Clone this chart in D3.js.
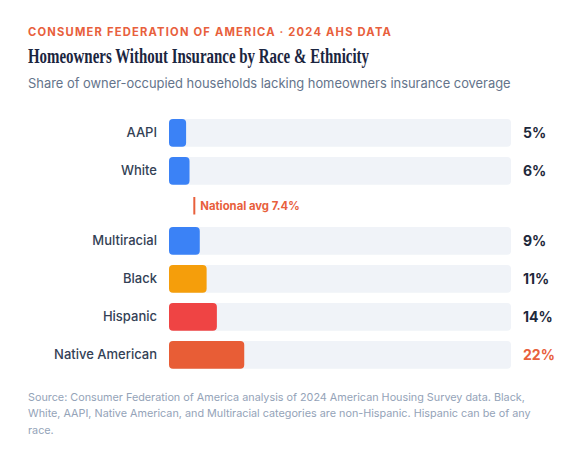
<!DOCTYPE html>
<html><head><meta charset="utf-8">
<script src="https://cdn.jsdelivr.net/npm/d3@7"></script>
<style>
html,body{margin:0;padding:0;background:#fff;}
svg{display:block;}
</style></head>
<body>
<script>
const categories = ["AAPI","White","Multiracial","Black","Hispanic","Native American"];
const values = [5,6,9,11,14,22];
const colors = ["#3b82f6","#3b82f6","#3b82f6","#f59e0b","#ef4444","#e85d36"];
const nationalAvg = 7.4;

const W = 587, H = 459;
const svg = d3.select("body").append("svg").attr("width", W).attr("height", H);
const sans = "Inter, 'Noto Sans', sans-serif";
const left = 28;

svg.append("text").attr("x",left).attr("y",36)
  .attr("font-family",sans).attr("font-size",11.2).attr("font-weight",700)
  .attr("letter-spacing","1.2px").attr("fill","#e8603c")
  .text("CONSUMER FEDERATION OF AMERICA · 2024 AHS DATA");

svg.append("text").attr("x",left).attr("y",63)
  .attr("font-family","'Liberation Serif', serif").attr("font-size",20.5).attr("font-weight",700)
  .attr("fill","#1b2540").attr("textLength",341).attr("lengthAdjust","spacingAndGlyphs")
  .text("Homeowners Without Insurance by Race & Ethnicity");

svg.append("text").attr("x",left).attr("y",88.3)
  .attr("font-family",sans).attr("font-size",12.9).attr("fill","#64748b")
  .text("Share of owner-occupied households lacking homeowners insurance coverage");

const x = d3.scaleLinear().domain([0,100]).range([169,511]);
const rowY = [119,157,227,265,303,341];
const barH = 27.7;

const g = svg.append("g");
categories.forEach((c,i)=>{
  const y0 = rowY[i];
  g.append("rect").attr("x",x(0)).attr("y",y0).attr("width",x(100)-x(0)).attr("height",barH)
    .attr("rx",4).attr("fill","#f0f3f8");
  g.append("rect").attr("x",x(0)).attr("y",y0).attr("width",x(values[i])-x(0)).attr("height",barH)
    .attr("rx",4).attr("fill",colors[i]);
  g.append("text").attr("x",157).attr("y",y0+barH/2).attr("dy","0.35em")
    .attr("text-anchor","end").attr("font-family",sans).attr("font-size",13).attr("font-weight",500)
    .attr("fill","#334155").text(c);
  g.append("text").attr("x",523).attr("y",y0+barH/2).attr("dy","0.36em")
    .attr("font-family",sans).attr("font-size",14).attr("font-weight",700)
    .attr("fill", i===categories.length-1 ? "#e8603c" : "#1e293b").text(values[i]+"%");
});

// national average marker
const ax = x(nationalAvg);
svg.append("line").attr("x1",ax).attr("x2",ax).attr("y1",197).attr("y2",214.5)
  .attr("stroke","#e8603c").attr("stroke-width",2);
svg.append("text").attr("x",ax+6).attr("y",206).attr("dy","0.35em")
  .attr("font-family",sans).attr("font-size",11.3).attr("font-weight",700).attr("fill","#e8603c")
  .text("National avg " + nationalAvg + "%");

const foot = ["Source: Consumer Federation of America analysis of 2024 American Housing Survey data. Black,",
  "White, AAPI, Native American, and Multiracial categories are non-Hispanic. Hispanic can be of any",
  "race."];
foot.forEach((t,i)=>{
  svg.append("text").attr("x",left).attr("y",400.7+i*16.6)
    .attr("font-family",sans).attr("font-size",10.8).attr("fill","#94a3b8").text(t);
});
</script>
</body></html>
